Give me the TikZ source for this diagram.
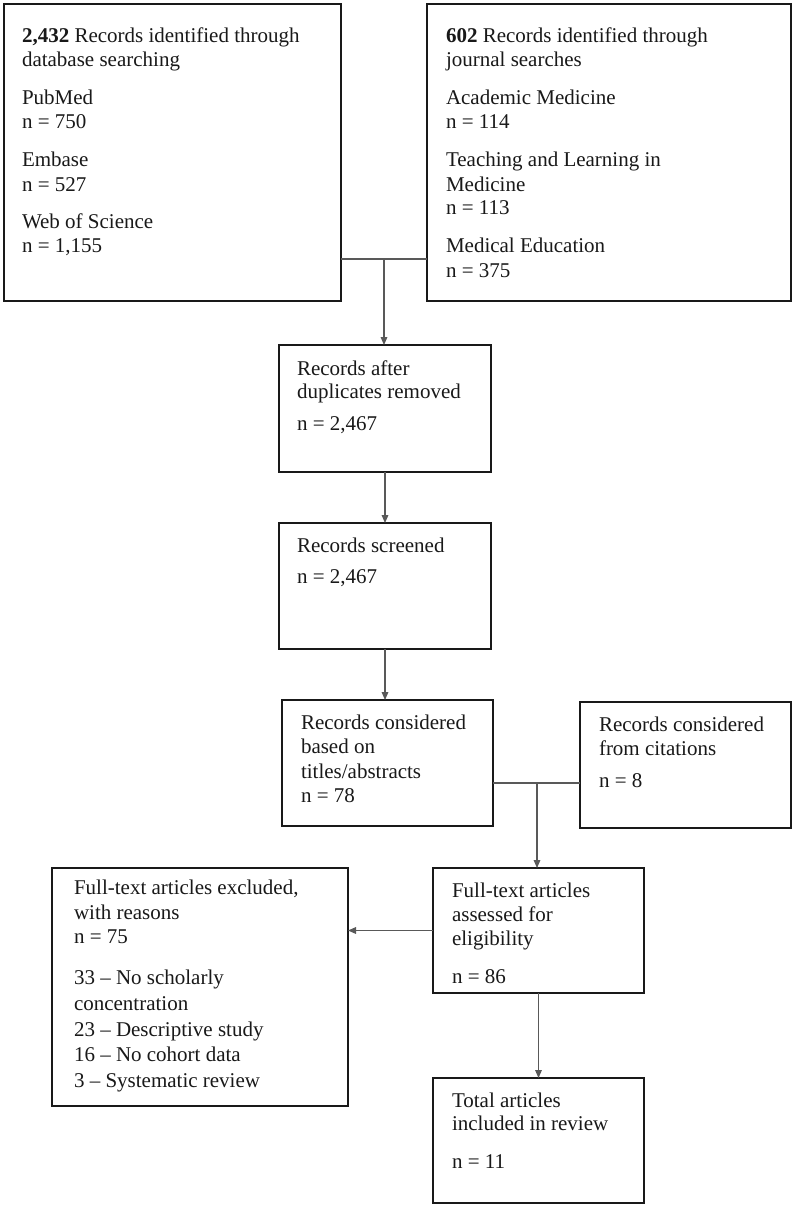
\documentclass[tikz,border=0pt]{standalone}
\usepackage{fontspec}
\setmainfont{Liberation Serif}
\usetikzlibrary{arrows.meta}
\tikzset{
  boxst/.style={draw=black!90, line width=1.4pt, inner sep=0pt, outer sep=0pt},
  txtst/.style={anchor=base west, inner sep=0pt, outer sep=0pt, text=black!90,
    font=\fontsize{15.75pt}{18.4pt}\selectfont},
  conn/.style={draw=black!65, line width=0.8pt},
  arr/.style={conn, -{Triangle[length=6pt,width=5pt]}}
}
\newcommand\bx[5]{\node[boxst, minimum width={(#4-#2)*0.75pt}, minimum height={(#5-#3)*0.75pt}] (#1) at ({(#2+#4)/2},{(#3+#5)/2}) {};}
\newcommand\tl[4]{\node[txtst] (#1) at (#2,#3) {#4};}
\begin{document}
\begin{tikzpicture}[x=0.75pt,y=-0.75pt]
\useasboundingbox[fill=white] (0,0) rectangle (793,1205);
% boxes
\bx{A}{4}{4}{341}{301}
\bx{B}{427}{4}{791}{301}
\bx{C}{279}{345}{491}{472}
\bx{D}{279}{523}{491}{649}
\bx{E}{282}{700}{493}{826}
\bx{F}{580}{702}{791}{828}
\bx{G}{433}{868}{644}{993}
\bx{I}{52}{868}{348}{1106}
\bx{H}{433}{1078}{644}{1203}
% texts A
\tl{a1}{22}{43}{\textbf{2,432} Records identified through}
\tl{a2}{22}{67}{database searching}
\tl{a3}{22}{105}{PubMed}
\tl{a4}{22}{129}{n = 750}
\tl{a5}{22}{167}{Embase}
\tl{a6}{22}{192}{n = 527}
\tl{a7}{22}{229}{Web of Science}
\tl{a8}{22}{253}{n = 1,155}
% texts B
\tl{b1}{446}{43}{\textbf{602} Records identified through}
\tl{b2}{446}{67}{journal searches}
\tl{b3}{446}{105}{Academic Medicine}
\tl{b4}{446}{129}{n = 114}
\tl{b5}{446}{167}{Teaching and Learning in}
\tl{b6}{446}{192}{Medicine}
\tl{b7}{446}{215}{n = 113}
\tl{b8}{446}{253}{Medical Education}
\tl{b9}{446}{278}{n = 375}
% C
\tl{c1}{297}{375}{Records after}
\tl{c2}{297}{398}{duplicates removed}
\tl{c3}{297}{430}{n = 2,467}
% D
\tl{d1}{297}{552}{Records screened}
\tl{d2}{297}{583}{n = 2,467}
% E
\tl{e1}{301}{729}{Records considered}
\tl{e2}{301}{753}{based on}
\tl{e3}{301}{778}{titles/abstracts}
\tl{e4}{301}{802}{n = 78}
% F
\tl{f1}{599}{731}{Records considered}
\tl{f2}{599}{755}{from citations}
\tl{f3}{599}{787}{n = 8}
% G
\tl{g1}{452}{897}{Full-text articles}
\tl{g2}{452}{921}{assessed for}
\tl{g3}{452}{945}{eligibility}
\tl{g4}{452}{983}{n = 86}
% H
\tl{h1}{452}{1107}{Total articles}
\tl{h2}{452}{1130}{included in review}
\tl{h3}{452}{1168}{n = 11}
% I
\tl{i1}{74}{894}{Full-text articles excluded,}
\tl{i2}{74}{919}{with reasons}
\tl{i3}{74}{943}{n = 75}
\tl{i4}{74}{984}{33 \textendash{} No scholarly}
\tl{i5}{74}{1010}{concentration}
\tl{i6}{74}{1036}{23 \textendash{} Descriptive study}
\tl{i7}{74}{1061}{16 \textendash{} No cohort data}
\tl{i8}{74}{1087}{3 \textendash{} Systematic review}
% connectors
\coordinate (j1) at (384,259);
\draw[conn] (A.east |- j1) -- (B.west |- j1);
\draw[arr] (j1) -- (j1 |- C.north);
\draw[arr] (C.south) -- (D.north);
\draw[arr] (D.south) -- (D.south |- E.north);
\coordinate (j2) at (537,783);
\draw[conn] (E.east |- j2) -- (F.west |- j2);
\draw[arr] (j2) -- (j2 |- G.north);
\draw[arr] (G.south) -- (H.north);
\draw[arr] (G.west) -- (G.west -| I.east);
\end{tikzpicture}
\end{document}
